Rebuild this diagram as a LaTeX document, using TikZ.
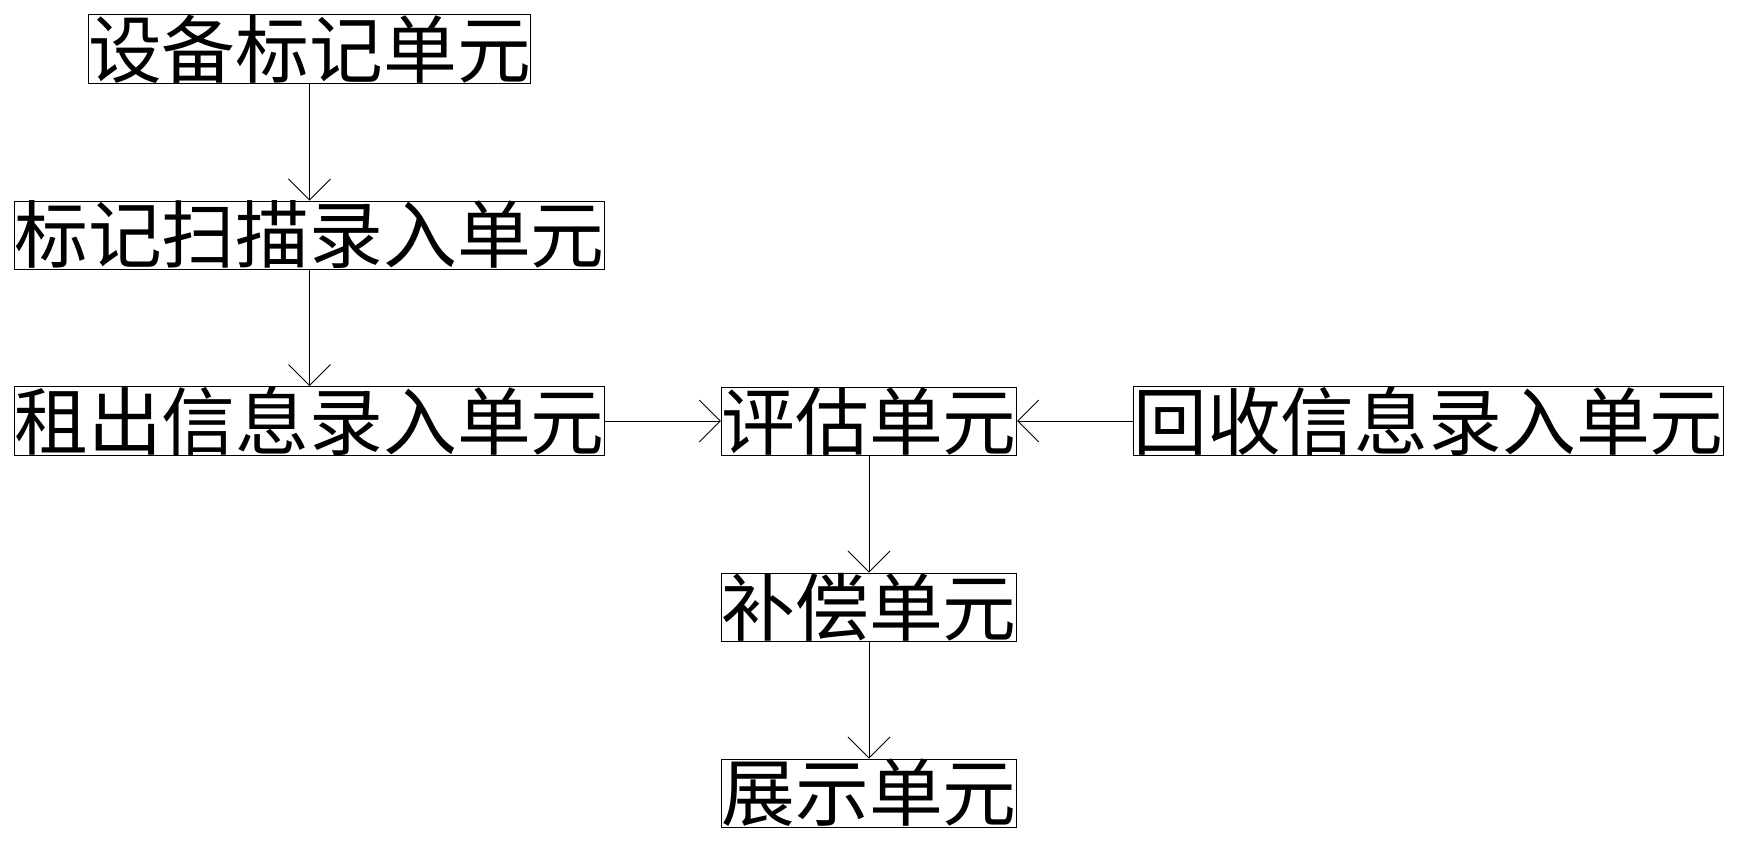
\documentclass[tikz,border=0pt]{standalone}
\usepackage{fontspec}
\newfontfamily\cjk{Noto Sans CJK SC}
\usetikzlibrary{arrows.meta}
\begin{document}
\begin{tikzpicture}[
        unitbox/.style = {draw, line width = 0.5pt, inner xsep = 0pt, inner ysep = 0pt,
            minimum height = 1.36cm, font = \cjk\fontsize{42}{42}\selectfont},
        flow/.style = {line width = 0.5pt, -{Straight Barb[length = 0.42cm, width = 0.84cm]}}
    ]
                \useasboundingbox (0, 0) rectangle (34.78, -16.82);

                \node [unitbox] (mark) at (6.19, -0.98) {设备标记单元};
                \node [unitbox] (scan) at (6.19, -4.70) {标记扫描录入单元};
                \node [unitbox] (rent) at (6.19, -8.42) {租出信息录入单元};
                \node [unitbox] (eval) at (17.38, -8.42) {评估单元};
                \node [unitbox] (back) at (28.57, -8.42) {回收信息录入单元};
                \node [unitbox] (comp) at (17.38, -12.14) {补偿单元};
                \node [unitbox] (show) at (17.38, -15.86) {展示单元};

                \draw [flow] (mark) -- (scan);
                \draw [flow] (scan) -- (rent);
                \draw [flow] (rent) -- (eval);
                \draw [flow] (back) -- (eval);
                \draw [flow] (eval) -- (comp);
                \draw [flow] (comp) -- (show);
            \end{tikzpicture}
\end{document}
